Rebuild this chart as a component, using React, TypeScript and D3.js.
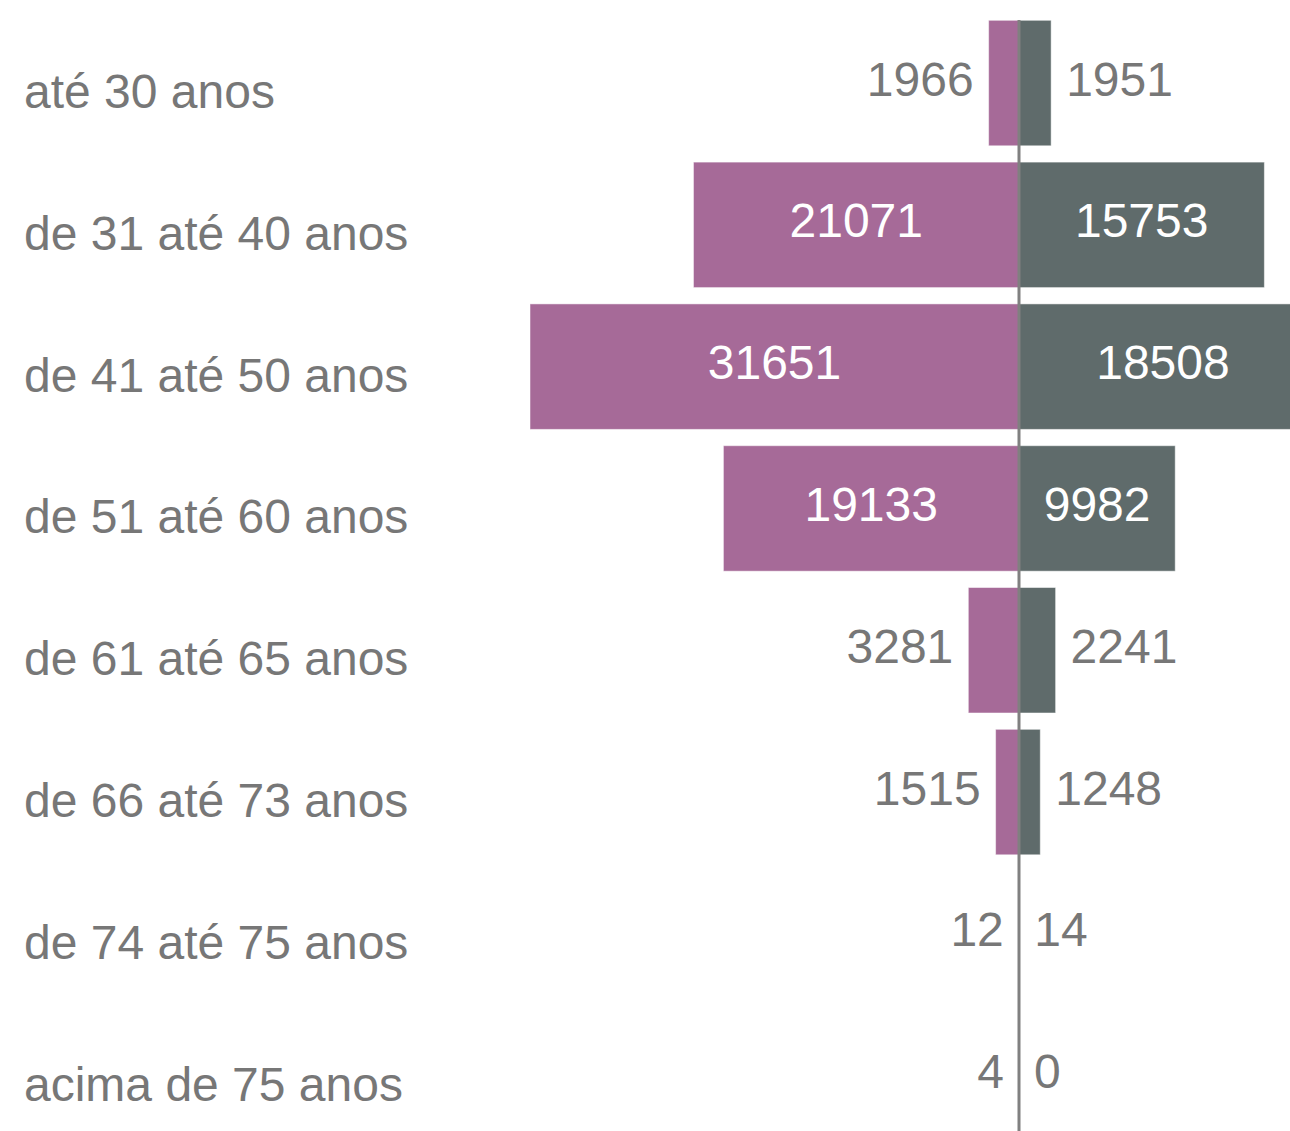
import React from "react";
import * as d3 from "d3";

const categories = [
  "até 30 anos",
  "de 31 até 40 anos",
  "de 41 até 50 anos",
  "de 51 até 60 anos",
  "de 61 até 65 anos",
  "de 66 até 73 anos",
  "de 74 até 75 anos",
  "acima de 75 anos",
];
const leftValues = [1966, 21071, 31651, 19133, 3281, 1515, 12, 4];
const rightValues = [1951, 15753, 18508, 9982, 2241, 1248, 14, 0];

const W = 1290;
const H = 1131;
const CX = 1019;
const RIGHT_SHIFT = 2;
const PINK = "#a66a98";
const GREY = "#5f6b6b";
const TEXT = "#777777";
const FONT = "'Liberation Sans', Arial, Helvetica, sans-serif";
const FS = 48;

export default function App() {
  const maxV = d3.max([...leftValues, ...rightValues]) as number;
  const len = d3.scaleLinear().domain([0, maxV]).range([0, 489]);
  const y = d3
    .scaleBand<string>()
    .domain(categories)
    .range([20.3, 1138.4])
    .paddingInner(0.115)
    .paddingOuter(0);
  const bw = y.bandwidth();
  const textW = (v: number) => String(v).length * 0.556 * FS;

  return (
    <svg
      width={W}
      height={H}
      style={{ position: "absolute", left: 0, top: 0, display: "block" }}
      fontFamily={FONT}
    >
      <rect x={0} y={0} width={W} height={H} fill="#ffffff" />
      {categories.map((c, i) => {
        const top = y(c) as number;
        const cy = top + bw / 2;
        const lv = leftValues[i];
        const rv = rightValues[i];
        const lw = len(lv);
        const rw = len(rv);
        const rwDraw = rw > 1 ? rw + RIGHT_SHIFT : rw;
        const lInside = textW(lv) + 20 < lw;
        const rInside = textW(rv) + 20 < rw;
        return (
          <g key={c}>
            <text x={24} y={cy + 25} fontSize={FS} fill={TEXT}>
              {c}
            </text>
            {lw > 0 && (
              <rect
                x={CX - lw}
                y={top}
                width={lw}
                height={bw}
                fill={PINK}
                stroke="#ffffff"
                strokeOpacity={0.5}
                strokeWidth={1}
              />
            )}
            {rw > 0 && (
              <rect
                x={CX}
                y={top}
                width={rwDraw}
                height={bw}
                fill={GREY}
                stroke="#ffffff"
                strokeOpacity={0.5}
                strokeWidth={1}
              />
            )}
            <text
              x={lInside ? CX - lw / 2 : CX - lw - 15}
              y={cy + 12.5}
              fontSize={FS}
              fill={lInside ? "#ffffff" : TEXT}
              textAnchor={lInside ? "middle" : "end"}
            >
              {lv}
            </text>
            <text
              x={rInside ? CX + rwDraw / 2 : CX + rwDraw + 15}
              y={cy + 12.5}
              fontSize={FS}
              fill={rInside ? "#ffffff" : TEXT}
              textAnchor={rInside ? "middle" : "start"}
            >
              {rv}
            </text>
          </g>
        );
      })}
      <line x1={CX} x2={CX} y1={20} y2={H} stroke="#808080" strokeWidth={3} />
    </svg>
  );
}
